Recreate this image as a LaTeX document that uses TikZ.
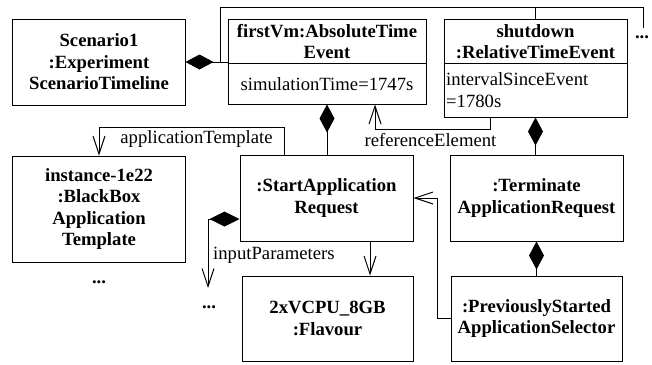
\documentclass[tikz,border=0pt]{standalone}
\usepackage{fontspec}
\setmainfont{Liberation Serif}
\usetikzlibrary{arrows.meta,calc}
\begin{document}
\begin{tikzpicture}[x=1bp,y=-1bp,
  every node/.style={font=\fontsize{18.67bp}{21.5bp}\selectfont, inner sep=0pt},
  box/.style={draw, line width=1bp, align=center, font=\fontsize{18.67bp}{21.5bp}\selectfont\bfseries},
  ttl/.style={align=center, font=\fontsize{18.67bp}{21.5bp}\selectfont\bfseries},
  ln/.style={line width=1bp},
  comp/.style={ln, {Diamond[length=28bp,width=15bp]}-},
  nav/.style={ln, -{Straight Barb[length=18bp,width=12bp]}},
  lbl/.style={font=\fontsize{18.67bp}{21.5bp}\selectfont}
]
\useasboundingbox (0,0) rectangle (652,364);

% boxes
\node[box, minimum width=172bp, minimum height=86bp] (sc) at (99,62) {Scenario1\\:Experiment\\ScenarioTimeline};
\node[box, minimum width=198bp, minimum height=85bp] (fv) at (327,61.5) {};
\node[ttl] (fvt) at (327,41.5) {firstVm:AbsoluteTime\\Event};
\coordinate (fvd) at (327,63);
\draw[ln] (fvd -| fv.west) -- (fvd -| fv.east);
\node[lbl, anchor=base] (fva) at (327,90) {simulationTime=1747s};

\node[box, minimum width=183bp, minimum height=98bp] (sd) at (535.5,68) {};
\node[ttl] (sdt) at (535.5,41.5) {shutdown\\:RelativeTimeEvent};
\coordinate (sdd) at (535.5,63);
\draw[ln] (sdd -| sd.west) -- (sdd -| sd.east);
\node[lbl, anchor=base west] (sda1) at (446,85) {intervalSinceEvent};
\node[lbl, anchor=base west] (sda2) at (446,107) {=1780s};

\node[box, minimum width=172bp, minimum height=106bp] (inst) at (99,209) {instance-1e22\\:BlackBox\\Application\\Template};
\node[box, minimum width=173bp, minimum height=86bp] (sa) at (326.5,198) {:StartApplication\\Request};
\node[box, minimum width=173bp, minimum height=86bp] (ta) at (536.5,198) {:Terminate\\ApplicationRequest};
\node[box, minimum width=171bp, minimum height=85bp] (fl) at (327.5,318.5) {2xVCPU\_8GB\\:Flavour};
\node[box, minimum width=171bp, minimum height=85bp] (ps) at (536.5,318.5) {:PreviouslyStarted\\ApplicationSelector};

% dots
\node[lbl] (dots1) at (642,37) {\textbf{...}};
\node[lbl] (dots2) at (99,282) {\textbf{...}};
\node[lbl] (dots3) at (209,307) {\textbf{...}};

% scenario -> events
\coordinate (j1) at (220,62);
\coordinate (tr) at (643,7);
\coordinate (te) at (643,28);
\draw[comp] (sc.east) -- (sc.east -| fv.west);
\draw[ln] (j1) |- (tr) -- (te);
\draw[ln] (sd.north) -- (sd.north |- tr);

% firstVm -> StartApplicationRequest
\draw[comp] (fv.south) -- (fv.south |- sa.north);

% referenceElement
\coordinate (re1) at (490,129);
\coordinate (re2) at (375,129);
\draw[nav] (re1 |- sd.south) -- (re1) -- (re2) -- (re2 |- fv.south);
\node[lbl, anchor=base] (rel) at (430.5,146) {referenceElement};

% shutdown -> Terminate
\draw[comp] (sd.south) -- (sd.south |- ta.north);

% applicationTemplate
\coordinate (at1) at (284,127);
\draw[nav] (at1 |- sa.north) -- (at1) -| (inst.north);
\node[lbl, anchor=base] (atl) at (196.5,143) {applicationTemplate};

% inputParameters
\coordinate (ip1) at (208,219);
\coordinate (ip2) at (208,288);
\draw[ln, {Diamond[length=30bp,width=15bp]}-{Straight Barb[length=18bp,width=12bp]}] (ip1 -| sa.west) -- (ip1) -- (ip2);
\node[lbl, anchor=base west] (ipl) at (213,259) {inputParameters};

% StartApp -> Flavour
\coordinate (fa) at (370,241);
\draw[nav] (fa) -- (fa |- fl.north);

% Previously -> StartApp
\coordinate (ps1) at (437,318);
\draw[nav] (ps.west) -- (ps.west -| ps1) |- (sa.east);

% Terminate -> Previously
\draw[comp] (ta.south) -- (ta.south |- ps.north);
\end{tikzpicture}
\end{document}
